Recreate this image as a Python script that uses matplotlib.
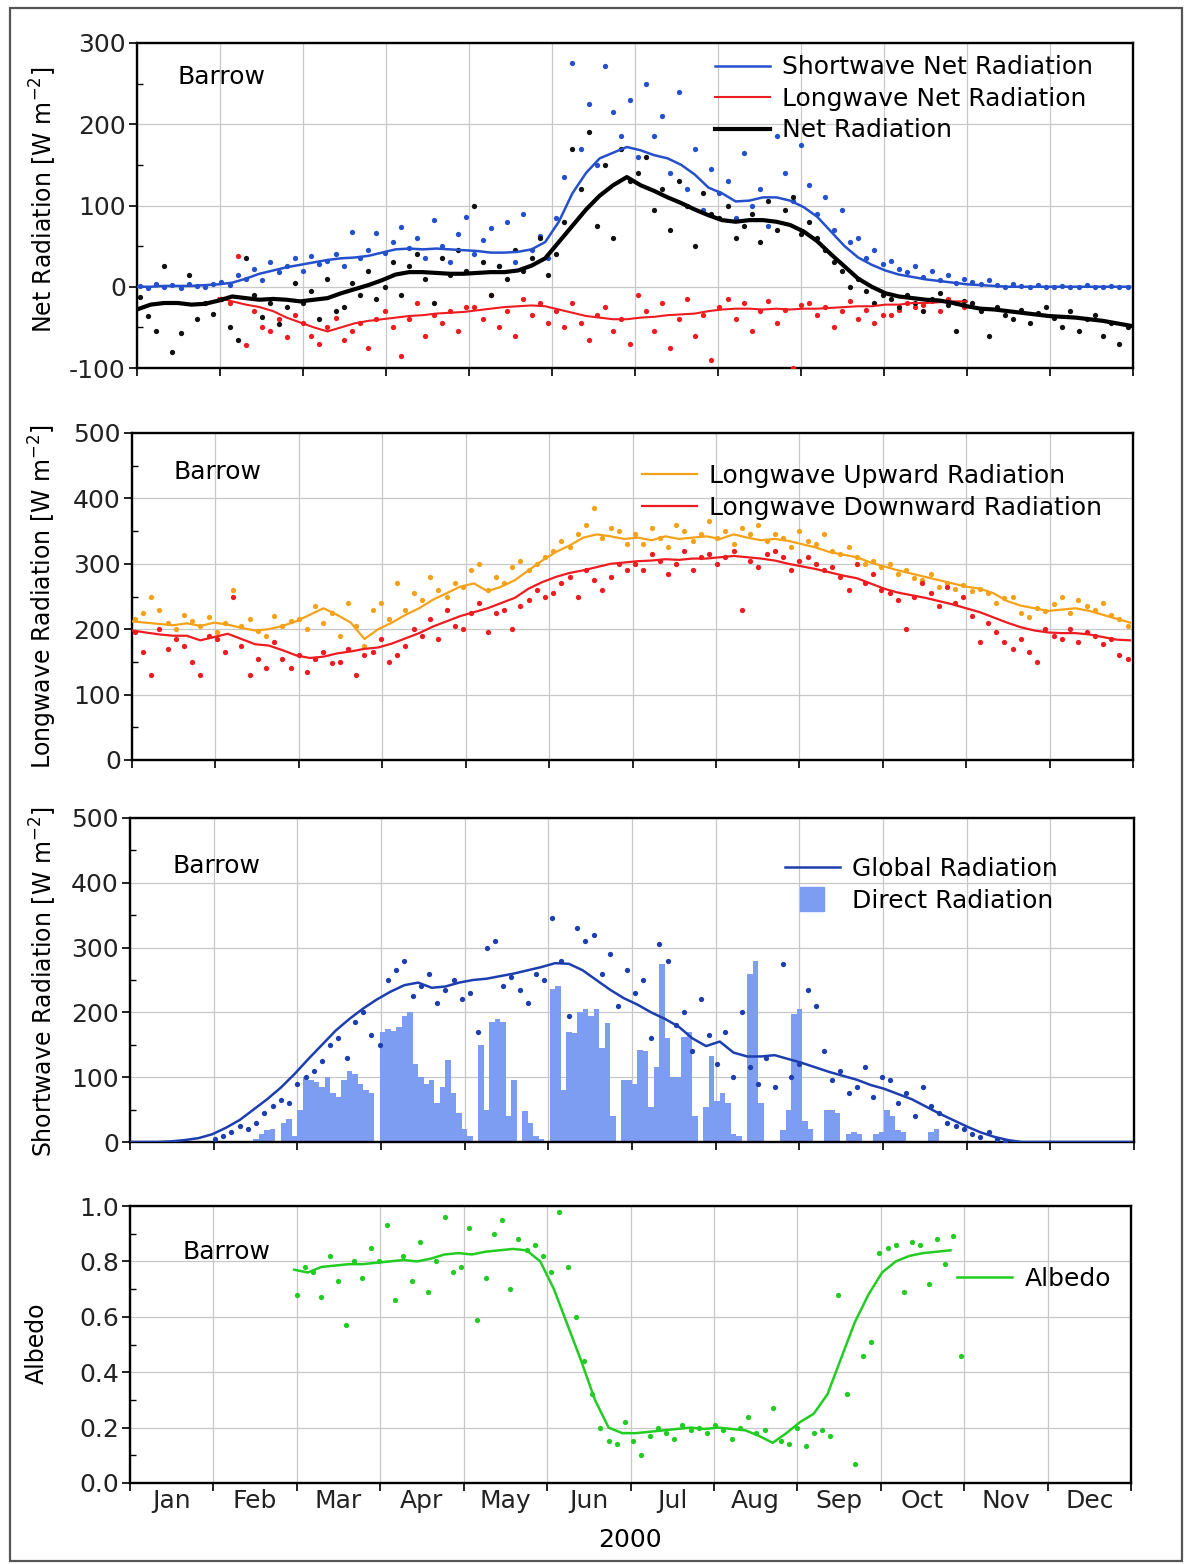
import numpy as np
import matplotlib
matplotlib.use("Agg")
import matplotlib.pyplot as plt
from matplotlib.lines import Line2D
from matplotlib.patches import Rectangle
from matplotlib.ticker import FormatStrFormatter

plt.rcParams['font.family'] = ['DejaVu Sans']
plt.rcParams['mathtext.fontset'] = 'dejavusans'
plt.rcParams['axes.unicode_minus'] = False

nan = np.nan

MONTHS = ['Jan', 'Feb', 'Mar', 'Apr', 'May', 'Jun', 'Jul', 'Aug', 'Sep', 'Oct', 'Nov', 'Dec']

# day of year for running means, daily dots and direct-radiation bars
LINE_DAY = np.arange(1, 367, 5)
DOT_DAY = np.arange(2, 366, 3)
BAR_DAY = np.arange(41, 301, 2)

# ---- panel 1: net radiation
SW_NET_LINE = [0, 0, 1, 1, 1, 2, 3, 5, 10, 16,
               20, 24, 27, 30, 33, 35, 36, 38, 42, 46,
               47, 46, 47, 46, 45, 44, 42, 42, 43, 46,
               55, 80, 115, 140, 158, 165, 172, 168, 162, 158,
               150, 138, 122, 115, 105, 106, 110, 110, 106, 98,
               86, 68, 50, 36, 27, 20, 15, 12, 9, 7,
               5, 3, 2, 1, 0, 0, 0, 0, 0, 0,
               0, 0, 0, 0]
LW_NET_LINE = [nan, nan, nan, nan, nan, nan, -14, -18, -22, -25,
               -30, -38, -44, -50, -55, -50, -45, -42, -40, -38,
               -36, -35, -33, -32, -31, -29, -27, -25, -24, -23,
               -24, -28, -32, -36, -38, -40, -40, -38, -37, -35,
               -34, -33, -30, -28, -27, -27, -28, -27, -28, -27,
               -27, -26, -25, -24, -24, -22, -22, -20, -20, -19,
               -18, -18, nan, nan, nan, nan, nan, nan, nan, nan,
               nan, nan, nan, nan]
NET_LINE = [-28, -22, -20, -20, -22, -21, -17, -12, -14, -16,
            -15, -16, -18, -16, -14, -8, -3, 2, 8, 15,
            18, 18, 17, 16, 16, 17, 18, 18, 20, 26,
            35, 55, 75, 95, 112, 125, 135, 125, 118, 110,
            103, 95, 88, 82, 80, 82, 82, 80, 76, 68,
            56, 40, 25, 10, 0, -8, -12, -14, -16, -17,
            -20, -24, -27, -28, -30, -32, -34, -36, -37, -38,
            -40, -42, -45, -48]

SW_NET_DOTS = [1, -1, 3, 0, 2, -2, 4, 1, 0, 3,
               6, 2, 14, 10, 22, 8, 30, 18, 26, 35,
               20, 38, 28, 32, 40, 25, 68, 36, 45, 66,
               42, 55, 74, 48, 60, 35, 82, 50, 30, 65, 86,
               40, 58, 72, 25, 80, 30, 90, 45, 62, 35,
               85, 135, 275, 170, 225, 150, 272, 215, 185, 230,
               160, 250, 185, 210, 140, 240, 120, 170, 95, 145,
               115, 130, 85, 165, 100, 120, 75, 185, 140, 105, 175,
               125, 90, 110, 70, 95, 55, 60, 35, 45, 28,
               32, 22, 18, 25, 12, 20, 8, 15, 5, 10,
               6, 3, 8, 2, 0, 4, 1, 0, 2, 0,
               0, 1, 0, 0, 2, 0, 0, 1, 0, 0]
LW_NET_DOTS = [nan, nan, nan, nan, nan, nan, nan, nan, nan, nan,
               -15, -20, 38, -72, -30, -50, -55, -40, -62, -35,
               -45, -60, -70, -50, -38, -65, -55, -45, -75, -40,
               -30, -50, -85, -40, -20, -60, -35, -45, -30, -55, -25,
               -25, -40, -10, -50, -30, -60, -15, -35, -20, -45,
               -30, -50, -20, -45, -65, -35, -25, -55, -40, -70,
               -10, -30, -55, -20, -75, -40, -15, -60, -35, -90,
               -25, -15, -40, -20, -55, -30, -18, -45, -28, -100, -22,
               -20, -35, -25, -50, -30, -18, -40, -28, -45, -35,
               -35, -28, -20, -25, -22, -18, -30, -15, -20, -25,
               nan, nan, nan, nan, nan, nan, nan, nan, nan, nan,
               nan, nan, nan, nan, nan, nan, nan, nan, nan, nan]
NET_DOTS = [-12, -36, -55, 25, -80, -57, 15, -40, -20, -33,
            -15, -50, -65, 35, -10, -37, -20, -46, -25, 5,
            -20, -5, -40, 10, -30, -25, 5, -10, 20, -15,
            0, 30, -10, 25, 40, 10, -20, 35, 15, 45, 20,
            100, 30, -10, 25, 10, 45, 20, 35, 60, 15,
            40, 80, 170, 120, 190, 75, 150, 60, 170, 130,
            140, 160, 95, 120, 70, 130, 100, 50, 115, 90,
            85, 100, 60, 75, 90, 55, 105, 70, 95, 110, 65,
            80, 60, 45, 30, 20, 0, 10, -5, -20, -10,
            -15, -25, -10, -20, -30, -15, -8, -22, -55, -18,
            -20, -30, -60, -25, -35, -40, -28, -45, -32, -25,
            -38, -50, -30, -55, -40, -35, -60, -45, -70, -50]

# ---- panel 2: longwave radiation
LW_UP_LINE = [212, 210, 208, 206, 209, 205, 210, 207, 202, 198,
              200, 205, 212, 222, 232, 222, 210, 185, 200, 210,
              222, 232, 245, 255, 265, 270, 258, 265, 275, 290,
              305, 318, 328, 340, 345, 342, 338, 340, 336, 342,
              338, 340, 342, 338, 345, 340, 336, 338, 335, 330,
              325, 318, 314, 310, 302, 296, 290, 285, 280, 275,
              270, 265, 262, 255, 243, 236, 232, 228, 230, 232,
              228, 222, 216, 210]
LW_DOWN_LINE = [198, 195, 192, 190, 190, 183, 188, 193, 185, 177,
                175, 168, 160, 156, 158, 163, 166, 170, 172, 178,
                186, 194, 204, 212, 220, 226, 232, 240, 248, 262,
                272, 280, 286, 290, 295, 300, 302, 304, 305, 307,
                306, 308, 308, 310, 312, 310, 308, 305, 300, 296,
                292, 287, 282, 278, 270, 262, 256, 252, 248, 243,
                238, 232, 226, 218, 210, 203, 198, 195, 194, 194,
                192, 188, 184, 183]
LW_UP_DOTS = [215, 225, 250, 230, 210, 200, 222, 212, 205, 218,
              195, 210, 260, 205, 215, 198, 190, 220, 205, 212,
              215, 200, 235, 210, 225, 190, 240, 205, 175, 230,
              240, 215, 270, 230, 255, 245, 280, 260, 250, 270, 265,
              290, 300, 260, 280, 270, 295, 305, 290, 300, 310,
              320, 335, 325, 345, 360, 385, 340, 355, 350, 330,
              345, 330, 355, 340, 325, 360, 350, 335, 345, 365,
              340, 350, 330, 355, 345, 360, 335, 345, 340, 325, 350,
              335, 330, 345, 320, 315, 325, 310, 300, 305, 295,
              300, 285, 290, 278, 275, 285, 265, 270, 262, 268,
              258, 262, 255, 240, 248, 250, 225, 218, 232, 228,
              238, 250, 225, 245, 235, 230, 240, 222, 215, 205]
LW_DOWN_DOTS = [195, 165, 130, 200, 170, 185, 175, 150, 130, 190,
                185, 165, 250, 175, 130, 155, 140, 180, 155, 140,
                160, 135, 155, 165, 148, 150, 170, 130, 160, 165,
                185, 150, 160, 175, 200, 190, 215, 185, 230, 205, 200,
                225, 240, 195, 225, 230, 200, 235, 245, 260, 250,
                255, 270, 280, 250, 290, 275, 260, 280, 300, 290,
                300, 290, 315, 305, 285, 300, 320, 290, 310, 315,
                300, 310, 320, 230, 305, 295, 315, 320, 310, 290, 305,
                310, 300, 290, 295, 280, 260, 300, 270, 285, 260,
                255, 245, 200, 250, 270, 255, 235, 265, 240, 250,
                220, 180, 210, 195, 180, 170, 185, 165, 150, 200,
                190, 185, 200, 180, 195, 190, 178, 185, 160, 155]

# ---- panel 3: shortwave radiation
GLOBAL_LINE = [0, 0, 0, 1, 3, 6, 12, 22, 34, 50,
               66, 84, 105, 128, 150, 172, 190, 206, 220, 232,
               242, 246, 238, 240, 246, 250, 252, 256, 260, 265,
               270, 276, 275, 265, 250, 235, 222, 212, 200, 190,
               178, 160, 148, 155, 138, 132, 132, 134, 128, 122,
               115, 108, 102, 96, 88, 82, 74, 66, 55, 44,
               34, 24, 15, 8, 3, 0, 0, 0, 0, 0,
               0, 0, 0, 0]
GLOBAL_DOTS = [nan, nan, nan, nan, nan, nan, nan, nan, nan, nan,
               5, 10, 15, 25, 20, 30, 45, 55, 65, 60,
               90, 100, 110, 125, 150, 160, 130, 185, 200, 165,
               150, 250, 265, 280, 225, 240, 260, 215, 235, 250, 220,
               230, 170, 300, 310, 240, 255, 235, 215, 260, 250,
               345, 280, 195, 330, 310, 320, 260, 290, 210, 265,
               230, 250, 160, 305, 280, 180, 200, 140, 220, 165,
               120, 170, 100, 200, 115, 90, 130, 85, 275, 100, 120,
               235, 210, 140, 95, 110, 75, 85, 115, 70, 100,
               95, 60, 75, 40, 85, 55, 45, 30, 25, 20,
               12, 8, 15, 5, 2, nan, nan, nan, nan, nan,
               nan, nan, nan, nan, nan, nan, nan, nan, nan, nan]
DIRECT_BARS = [0, 0, 0, 5, 12, 18, 20, 0, 30, 35,
               10, 50, 100, 95, 92, 85, 100, 75, 70, 95,
               110, 105, 90, 80, 75, 0, 170, 175, 172, 178,
               195, 200, 120, 100, 90, 95, 60, 85, 127, 75,
               45, 20, 10, 0, 150, 50, 185, 190, 185, 40,
               95, 0, 48, 30, 10, 5, 0, 236, 240, 80,
               170, 168, 200, 205, 195, 205, 145, 183, 40, 0,
               95, 95, 90, 142, 140, 54, 116, 275, 160, 100,
               100, 162, 170, 40, 0, 54, 132, 64, 75, 60,
               13, 10, 0, 260, 280, 60, 0, 0, 0, 18,
               49, 198, 205, 33, 20, 0, 0, 49, 50, 45,
               0, 13, 15, 12, 0, 0, 13, 15, 49, 40,
               18, 15, 0, 0, 0, 0, 15, 20, 0, 0]

# ---- panel 4: albedo
ALBEDO_LINE = [nan, nan, nan, nan, nan, nan, nan, nan, nan, nan,
               nan, nan, 0.77, 0.76, 0.78, 0.785, 0.79, 0.79, 0.795, 0.80,
               0.805, 0.80, 0.81, 0.825, 0.83, 0.825, 0.835, 0.84, 0.845, 0.84,
               0.80, 0.70, 0.57, 0.44, 0.30, 0.20, 0.18, 0.18, 0.185, 0.19,
               0.195, 0.20, 0.195, 0.20, 0.195, 0.19, 0.17, 0.145, 0.18, 0.22,
               0.25, 0.32, 0.45, 0.58, 0.68, 0.76, 0.80, 0.82, 0.83, 0.835,
               0.84, nan, nan, nan, nan, nan, nan, nan, nan, nan,
               nan, nan, nan, nan]
ALBEDO_DOTS = [nan, nan, nan, nan, nan, nan, nan, nan, nan, nan,
               nan, nan, nan, nan, nan, nan, nan, nan, nan, nan,
               0.68, 0.78, 0.76, 0.67, 0.82, 0.73, 0.57, 0.80, 0.74, 0.85,
               0.80, 0.93, 0.66, 0.82, 0.73, 0.87, 0.69, 0.80, 0.96, 0.76, 0.78,
               0.92, 0.59, 0.74, 0.90, 0.95, 0.70, 0.88, 0.84, 0.86, 0.82,
               0.76, 0.98, 0.78, 0.60, 0.44, 0.32, 0.20, 0.15, 0.14, 0.22,
               0.15, 0.10, 0.17, 0.20, 0.18, 0.16, 0.21, 0.19, 0.20, 0.18,
               0.21, 0.19, 0.16, 0.20, 0.24, 0.18, 0.19, 0.27, 0.15, 0.14, 0.20,
               0.135, 0.18, 0.19, 0.17, 0.68, 0.32, 0.07, 0.46, 0.51, 0.83,
               0.85, 0.86, 0.69, 0.87, 0.86, 0.72, 0.88, 0.79, 0.89, 0.46,
               nan, nan, nan, nan, nan, nan, nan, nan, nan, nan,
               nan, nan, nan, nan, nan, nan, nan, nan, nan, nan]

SW_C = '#2550cc'
LW_C = '#ee1c20'
UP_C = '#f5a21a'
GLB_C = '#1d3eae'
BAR_C = '#7c9df2'
ALB_C = '#22cc22'
GRID_C = '#c8c8c8'

FW, FH = 1188, 1564


def month_pos(day):
    return (np.asarray(day, dtype=float) - 1) / 30.5


def add_panel(left, top, right, bottom):
    return fig.add_axes([left / FW, 1 - bottom / FH, (right - left) / FW, (bottom - top) / FH])


def style(ax, lo, hi, step):
    ax.set_xlim(0, 12)
    ax.set_ylim(lo, hi)
    ax.set_xticks(np.arange(0, 13))
    ax.set_yticks(np.arange(lo, hi + step / 2, step))
    ax.set_yticks(np.arange(lo + step / 2, hi, step), minor=True)
    ax.grid(True, which='major', color=GRID_C, lw=0.9)
    ax.set_axisbelow(True)
    for s in ax.spines.values():
        s.set_linewidth(1.7)
    ax.tick_params(axis='both', which='major', direction='out', length=6, width=1.4,
                   labelsize=18, pad=2, labelbottom=False, colors='#222222')
    ax.tick_params(axis='y', which='minor', direction='in', length=4, width=1.0)


def dots(ax, day, vals, color):
    ax.plot(month_pos(day), vals, 'o', ms=3.8, mew=0, color=color, zorder=3)


LEG = dict(loc='upper left', frameon=False, fontsize=18, handlelength=2.2, handletextpad=0.5,
           labelspacing=0.3, borderpad=0, borderaxespad=0)

fig = plt.figure(figsize=(FW / 100, FH / 100), dpi=100)
fig.patches.append(Rectangle((10 / FW, 3 / FH), 1172 / FW, 1553 / FH, transform=fig.transFigure,
                             fill=False, ec='#555555', lw=1.6))

# panel 1
ax1 = add_panel(137, 43, 1133, 368)
style(ax1, -100, 300, 100)
dots(ax1, DOT_DAY, SW_NET_DOTS, SW_C)
dots(ax1, DOT_DAY, LW_NET_DOTS, LW_C)
dots(ax1, DOT_DAY, NET_DOTS, '#111111')
ax1.plot(month_pos(LINE_DAY), SW_NET_LINE, color=SW_C, lw=1.8, zorder=4)
ax1.plot(month_pos(LINE_DAY), LW_NET_LINE, color=LW_C, lw=1.5, zorder=4)
ax1.plot(month_pos(LINE_DAY), NET_LINE, color='#000000', lw=3.0, zorder=5)
ax1.text(0.041, 0.895, 'Barrow', transform=ax1.transAxes, fontsize=18, va='center')
ax1.legend([Line2D([], [], color=SW_C, lw=1.8), Line2D([], [], color=LW_C, lw=1.5),
            Line2D([], [], color='k', lw=3.0)],
           ['Shortwave Net Radiation', 'Longwave Net Radiation', 'Net Radiation'],
           bbox_to_anchor=(0.58, 0.962), **LEG)

# panel 2
ax2 = add_panel(132, 433, 1133, 760)
style(ax2, 0, 500, 100)
dots(ax2, DOT_DAY, LW_UP_DOTS, UP_C)
dots(ax2, DOT_DAY, LW_DOWN_DOTS, LW_C)
ax2.plot(month_pos(LINE_DAY), LW_UP_LINE, color=UP_C, lw=1.6, zorder=4)
ax2.plot(month_pos(LINE_DAY), LW_DOWN_LINE, color=LW_C, lw=1.6, zorder=4)
ax2.text(0.041, 0.88, 'Barrow', transform=ax2.transAxes, fontsize=18, va='center')
ax2.legend([Line2D([], [], color=UP_C, lw=1.6), Line2D([], [], color=LW_C, lw=1.6)],
           ['Longwave Upward Radiation', 'Longwave Downward Radiation'],
           bbox_to_anchor=(0.509, 0.905), **LEG)

# panel 3
ax3 = add_panel(130, 818, 1134, 1142)
style(ax3, 0, 500, 100)
ax3.bar(month_pos(BAR_DAY), DIRECT_BARS, width=2 / 30.5, color=BAR_C, lw=0, zorder=2)
dots(ax3, DOT_DAY, GLOBAL_DOTS, GLB_C)
ax3.plot(month_pos(LINE_DAY), GLOBAL_LINE, color=GLB_C, lw=1.8, zorder=4)
ax3.text(0.042, 0.852, 'Barrow', transform=ax3.transAxes, fontsize=18, va='center')
ax3.legend([Line2D([], [], color=GLB_C, lw=1.8),
            Line2D([], [], color=BAR_C, marker='s', ms=17, ls='none')],
           ['Global Radiation', 'Direct Radiation'],
           bbox_to_anchor=(0.652, 0.879), **LEG)

# panel 4
ax4 = add_panel(130, 1206, 1131, 1483)
style(ax4, 0, 1.0, 0.2)
ax4.yaxis.set_major_formatter(FormatStrFormatter('%.1f'))
dots(ax4, DOT_DAY, ALBEDO_DOTS, ALB_C)
ax4.plot(month_pos(LINE_DAY), ALBEDO_LINE, color=ALB_C, lw=1.8, zorder=4)
ax4.text(0.052, 0.834, 'Barrow', transform=ax4.transAxes, fontsize=18, va='center')
ax4.legend([Line2D([], [], color=ALB_C, lw=1.8)], ['Albedo'],
           bbox_to_anchor=(0.826, 0.78), **LEG)
ax4.set_xticks(np.arange(0.5, 12, 1), minor=True)
ax4.set_xticklabels(MONTHS, minor=True)
ax4.tick_params(axis='x', which='minor', length=0, labelsize=18, pad=4, colors='#222222')

# axis titles
fig.text(43 / FW, 1 - 200 / FH, 'Net Radiation [W m$^{-2}$]', rotation=90, ha='center', va='center', fontsize=17)
fig.text(43 / FW, 1 - 597 / FH, 'Longwave Radiation [W m$^{-2}$]', rotation=90, ha='center', va='center', fontsize=17)
fig.text(43 / FW, 1 - 982 / FH, 'Shortwave Radiation [W m$^{-2}$]', rotation=90, ha='center', va='center', fontsize=17)
fig.text(37 / FW, 1 - 1343 / FH, 'Albedo', rotation=90, ha='center', va='center', fontsize=17)
fig.text(630 / FW, 1 - 1540 / FH, '2000', ha='center', va='center', fontsize=18)

fig.savefig('out.png', dpi=100)
